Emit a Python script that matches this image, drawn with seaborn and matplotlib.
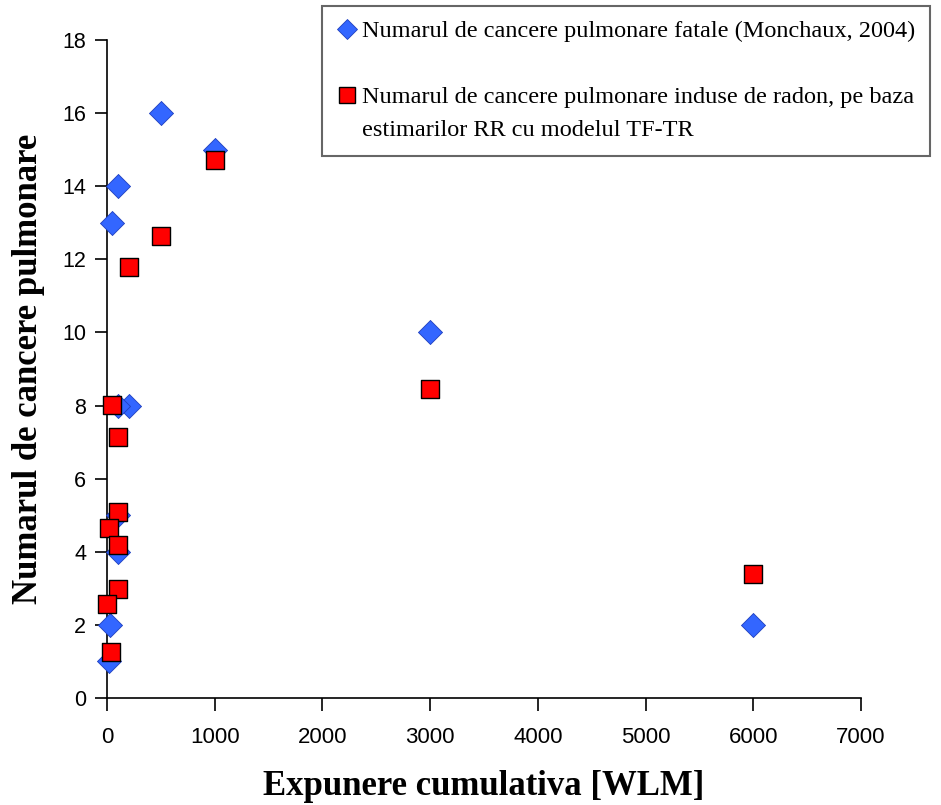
import matplotlib
matplotlib.use("Agg")
import matplotlib.pyplot as plt
from matplotlib.lines import Line2D
import seaborn as sns
import pandas as pd

# Monchaux (2004): observed fatal lung cancers per exposure group
fatal_x = [500, 1000, 100, 50, 3000, 200, 100, 100, 100, 25, 6000, 20]
fatal_y = [16, 15, 14, 13, 10, 8, 8, 5, 4, 2, 2, 1]

# Radon-induced lung cancers estimated from RR with the TF-TR model
model_x = [1000, 500, 200, 3000, 6000, 50, 100, 100, 20, 100, 100, 0, 35]
model_y = [14.72, 12.64, 11.78, 8.45, 3.39, 8.01, 7.14, 5.09, 4.65, 4.18, 2.98, 2.57, 1.26]

label_fatal = "Numarul de cancere pulmonare fatale (Monchaux, 2004)"
label_model = "Numarul de cancere pulmonare induse de radon, pe baza"
label_model_cont = "estimarilor RR cu modelul TF-TR"

x_ticks = [0, 1000, 2000, 3000, 4000, 5000, 6000, 7000]
y_ticks = [0, 2, 4, 6, 8, 10, 12, 14, 16, 18]

blue = "#3366FF"
red = "#FF0000"

df = pd.concat([
    pd.DataFrame({"x": fatal_x, "y": fatal_y, "serie": "fatal"}),
    pd.DataFrame({"x": model_x, "y": model_y, "serie": "model"}),
], ignore_index=True)

sns.set_style("ticks")
plt.rcParams["text.color"] = "black"
plt.rcParams["xtick.color"] = "black"
plt.rcParams["ytick.color"] = "black"

fig = plt.figure(figsize=(9.41, 8.05), dpi=100)
ax = fig.add_axes([0.1137, 0.1329, 0.8013, 0.8174])

sns.scatterplot(data=df[df.serie == "fatal"], x="x", y="y", ax=ax,
                marker="D", s=150, color=blue, edgecolor="#1f3fbf",
                linewidth=0.6, clip_on=False, zorder=3, legend=False)
sns.scatterplot(data=df[df.serie == "model"], x="x", y="y", ax=ax,
                marker="s", s=170, color=red, edgecolor="black",
                linewidth=1.0, clip_on=False, zorder=4, legend=False)

ax.set_xlim(0, 7000)
ax.set_ylim(0, 18)
ax.set_xticks(x_ticks)
ax.set_yticks(y_ticks)
ax.set_xticklabels([str(v) for v in x_ticks], family="Liberation Sans",
                   fontsize=16, color="black")
ax.set_yticklabels([str(v) for v in y_ticks], family="Liberation Sans",
                   fontsize=15.5, color="black")
ax.tick_params(axis="both", direction="out", length=9, width=1.2,
               color="black")
ax.tick_params(axis="y", pad=6)
ax.tick_params(axis="x", pad=12)
for side in ("top", "right"):
    ax.spines[side].set_visible(False)
for side in ("left", "bottom"):
    ax.spines[side].set_linewidth(1.2)
    ax.spines[side].set_color("black")

ax.set_xlabel("Expunere cumulativa [WLM]", family="Liberation Serif",
              fontweight="bold", fontsize=25, labelpad=16, color="black")
ax.set_ylabel("Numarul de cancere pulmonare", family="Liberation Serif",
              fontweight="bold", fontsize=25, labelpad=12, color="black")

# legend rows: the second series' label wraps onto a row without a marker
h_fatal = Line2D([], [], ls="none", marker="D", ms=10, mfc=blue,
                 mec="#1f3fbf", mew=0.6)
h_model = Line2D([], [], ls="none", marker="s", ms=11, mfc=red,
                 mec="black", mew=1.0)
h_none = Line2D([], [], ls="none")
leg = fig.legend([h_fatal, h_none, h_model, h_none],
                 [label_fatal, " ", label_model, label_model_cont],
                 loc="upper left", bbox_to_anchor=(0.342, 0.993),
                 frameon=True, fancybox=False, edgecolor="#404040",
                 prop={"family": "Liberation Serif", "size": 17.5},
                 labelspacing=0.45, handletextpad=0.15, borderpad=0.6,
                 handlelength=0.9, borderaxespad=0.0)
leg.get_frame().set_linewidth(1.5)

fig.savefig("out.png", dpi=100)
